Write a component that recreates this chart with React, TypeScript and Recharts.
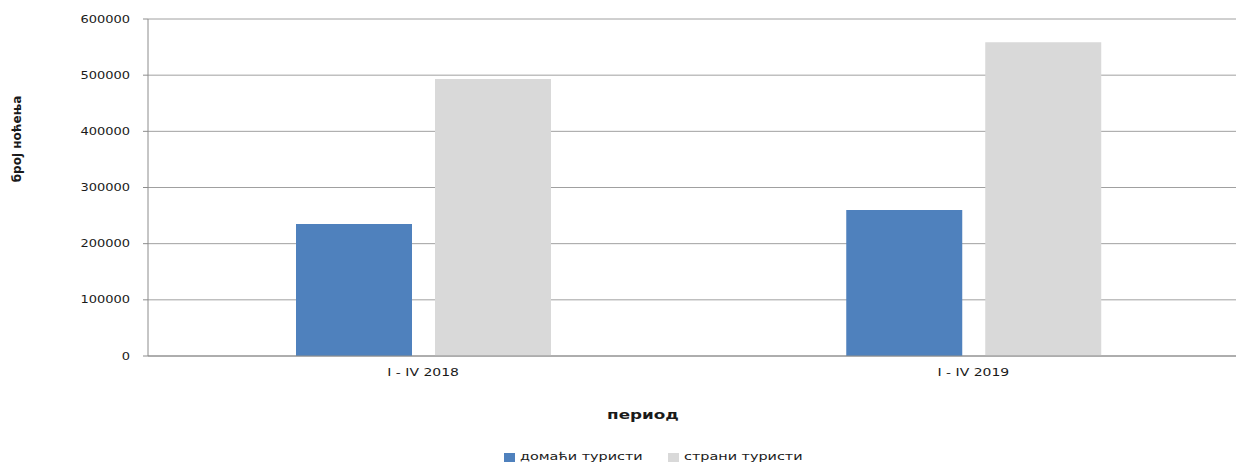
import React from "react";
import { BarChart, Bar, XAxis, YAxis, CartesianGrid } from "recharts";

const categories = ["I - IV 2018", "I - IV 2019"];
const domestic = [235000, 260000];
const foreign = [493000, 558500];
const yTicks = [0, 100000, 200000, 300000, 400000, 500000, 600000];

const BLUE = "#4F81BD";
const GREY = "#D9D9D9";
const AXIS = "#8c8c8c";
const GRID = "#a0a0a0";
const TEXT = "#1a1a1a";
const FONT = "'DejaVu Sans', Verdana, sans-serif";

const data = categories.map((name, i) => ({
  name,
  domestic: domestic[i],
  foreign: foreign[i],
}));

const legend = [
  { color: BLUE, label: "домаћи туристи" },
  { color: GREY, label: "страни туристи" },
];

// the source chart is stretched sideways, so text gets a horizontal scale
const stretch = (x: number, y: number, k: number) =>
  `translate(${x} ${y}) scale(${k} 1) translate(${-x} ${-y})`;

function XTick(props: any) {
  const { x, y, payload } = props;
  return (
    <text
      x={x}
      y={y}
      dy="0.71em"
      textAnchor="middle"
      transform={stretch(x, y, 1.4)}
      fontFamily={FONT}
      fontSize={10}
      fill={TEXT}
    >
      {payload.value}
    </text>
  );
}

function YTick(props: any) {
  const { x, y, payload } = props;
  return (
    <text
      x={x}
      y={y}
      dy="0.355em"
      textAnchor="end"
      transform={stretch(x, y, 1.3)}
      fontFamily={FONT}
      fontSize={10}
      fill={TEXT}
    >
      {payload.value}
    </text>
  );
}

function YLabel() {
  return (
    <text
      x={17}
      y={139}
      transform="rotate(-90 17 139)"
      textAnchor="middle"
      dominantBaseline="central"
      fontFamily={FONT}
      fontSize={12}
      fontWeight="bold"
      fill={TEXT}
    >
      број ноћења
    </text>
  );
}

function XLabel() {
  return (
    <text
      x={643}
      y={419}
      textAnchor="middle"
      transform={stretch(643, 419, 1.4)}
      fontFamily={FONT}
      fontSize={12}
      fontWeight="bold"
      fill={TEXT}
    >
      период
    </text>
  );
}

export default function App() {
  return (
    <div
      style={{
        position: "fixed",
        left: 0,
        top: 0,
        width: 1236,
        height: 464,
        overflow: "hidden",
        background: "#fff",
        fontFamily: FONT,
      }}
    >
      <BarChart
        width={1260}
        height={464}
        data={data}
        margin={{ top: 19, right: 11.5, bottom: 78, left: 0 }}
        barSize={116}
        barGap={23}
      >
        <CartesianGrid vertical={false} stroke={GRID} />
        <XAxis
          dataKey="name"
          height={30}
          axisLine={{ stroke: AXIS }}
          tickLine={false}
          tickMargin={7}
          tick={XTick}
          label={XLabel}
        />
        <YAxis
          width={148}
          domain={[0, 600000]}
          ticks={yTicks}
          interval={0}
          axisLine={{ stroke: AXIS }}
          tickLine={{ stroke: AXIS }}
          tickSize={5}
          tickMargin={13}
          tick={YTick}
          label={YLabel}
        />
        <Bar dataKey="domestic" fill={BLUE} isAnimationActive={false} />
        <Bar dataKey="foreign" fill={GREY} isAnimationActive={false} />
      </BarChart>

      {/* Legend */}
      <div
        style={{
          position: "absolute",
          left: 504,
          top: 450,
          display: "flex",
          fontSize: 10.5,
          lineHeight: "13px",
          color: TEXT,
          whiteSpace: "nowrap",
        }}
      >
        {legend.map(({ color, label }, i) => (
          <div
            key={label}
            style={{ display: "flex", alignItems: "flex-start", width: i === 0 ? 164 : 132 }}
          >
            <div style={{ width: 11, height: 9, marginTop: 3, background: color }} />
            <span
              style={{
                marginLeft: 5,
                display: "inline-block",
                transform: "scaleX(1.37)",
                transformOrigin: "left center",
              }}
            >
              {label}
            </span>
          </div>
        ))}
      </div>
    </div>
  );
}
